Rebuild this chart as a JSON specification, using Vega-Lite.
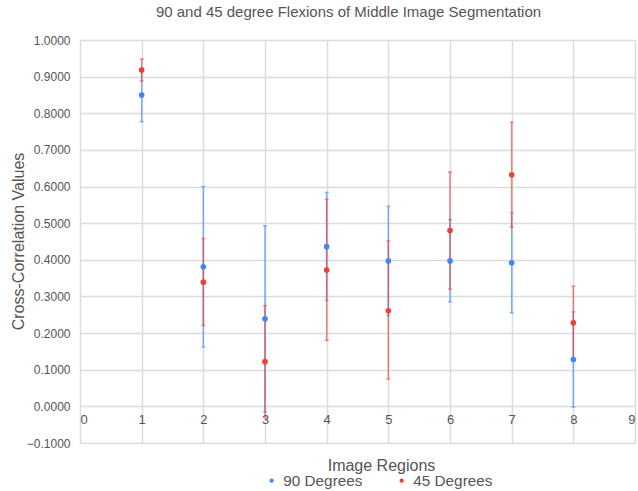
{
  "$schema": "https://vega.github.io/schema/vega-lite/v6.json",
  "autosize": "none",
  "width": 555,
  "height": 403,
  "padding": {"left": 80, "top": 40, "right": 3, "bottom": 48},
  "background": "white",
  "title": {
    "text": "90 and 45 degree Flexions of Middle Image Segmentation",
    "font": "Liberation Sans",
    "fontSize": 15,
    "fontWeight": "normal",
    "color": "#555555",
    "anchor": "middle",
    "dx": -9,
    "offset": 14
  },
  "config": {
    "view": {"stroke": null},
    "font": "Liberation Sans",
    "axisY": {
      "titleFont": "Liberation Sans",
      "titleFontSize": 16,
      "titleFontWeight": "normal",
      "titleColor": "#555555",
      "titleX": -62,
      "titleY": 201,
      "titleAlign": "center",
      "titleBaseline": "middle",
      "domain": false,
      "ticks": false,
      "labelFont": "Liberation Sans",
      "labelFontSize": 12,
      "labelColor": "#555555",
      "labelPadding": 10,
      "labelOverlap": false,
      "labelBound": false,
      "gridColor": "#dcdcdc",
      "gridWidth": 1.5
    }
  },
  "data": {
    "values": [
      {"region": 1, "series": "90 Degrees", "value": 0.850, "lo": 0.777, "hi": 0.923},
      {"region": 2, "series": "90 Degrees", "value": 0.381, "lo": 0.162, "hi": 0.600},
      {"region": 3, "series": "90 Degrees", "value": 0.239, "lo": -0.015, "hi": 0.493},
      {"region": 4, "series": "90 Degrees", "value": 0.436, "lo": 0.289, "hi": 0.584},
      {"region": 5, "series": "90 Degrees", "value": 0.397, "lo": 0.248, "hi": 0.546},
      {"region": 6, "series": "90 Degrees", "value": 0.397, "lo": 0.285, "hi": 0.510},
      {"region": 7, "series": "90 Degrees", "value": 0.392, "lo": 0.255, "hi": 0.529},
      {"region": 8, "series": "90 Degrees", "value": 0.128, "lo": -0.002, "hi": 0.258},
      {"region": 1, "series": "45 Degrees", "value": 0.918, "lo": 0.888, "hi": 0.948},
      {"region": 2, "series": "45 Degrees", "value": 0.339, "lo": 0.221, "hi": 0.458},
      {"region": 3, "series": "45 Degrees", "value": 0.122, "lo": -0.030, "hi": 0.275},
      {"region": 4, "series": "45 Degrees", "value": 0.372, "lo": 0.180, "hi": 0.565},
      {"region": 5, "series": "45 Degrees", "value": 0.261, "lo": 0.074, "hi": 0.452},
      {"region": 6, "series": "45 Degrees", "value": 0.480, "lo": 0.320, "hi": 0.640},
      {"region": 7, "series": "45 Degrees", "value": 0.632, "lo": 0.489, "hi": 0.776},
      {"region": 8, "series": "45 Degrees", "value": 0.228, "lo": 0.128, "hi": 0.328}
    ]
  },
  "encoding": {
    "x": {
      "field": "region",
      "type": "quantitative",
      "scale": {"domain": [0, 9], "nice": false},
      "axis": {
        "title": "Image Regions",
        "titleFont": "Liberation Sans",
        "titleFontSize": 16,
        "titleFontWeight": "normal",
        "titleColor": "#555555",
        "titleX": 301,
        "titleY": 59,
        "titleAlign": "center",
        "titleBaseline": "middle",
        "values": [0, 1, 2, 3, 4, 5, 6, 7, 8, 9],
        "format": "d",
        "offset": -37,
        "domain": false,
        "ticks": false,
        "labelFont": "Liberation Sans",
        "labelFontSize": 13,
        "labelColor": "#555555",
        "labelPadding": 7,
        "labelOverlap": false,
        "gridColor": "#dcdcdc",
        "gridWidth": 1.5,
        "zindex": 0
      }
    },
    "color": {
      "field": "series",
      "type": "nominal",
      "scale": {"domain": ["90 Degrees", "45 Degrees"], "range": ["#4285F4", "#EA4335"]},
      "legend": {
        "title": null,
        "orient": "none",
        "direction": "horizontal",
        "legendX": 184,
        "legendY": 433,
        "symbolType": "circle",
        "symbolSize": 18,
        "symbolOpacity": 1,
        "symbolStrokeWidth": 0,
        "labelFont": "Liberation Sans",
        "labelFontSize": 15.3,
        "labelColor": "#555555",
        "labelOffset": 4,
        "columnPadding": 31
      }
    }
  },
  "layer": [
    {
      "mark": {"type": "rule", "strokeWidth": 1.5, "opacity": 0.65},
      "encoding": {
        "y": {
          "field": "lo",
          "type": "quantitative",
          "scale": {"domain": [-0.1, 1.0], "nice": false, "zero": false},
          "axis": {
            "title": "Cross-Correlation Values",
            "values": [-0.1, 0, 0.1, 0.2, 0.3, 0.4, 0.5, 0.6, 0.7, 0.8, 0.9, 1.0],
            "format": ".4f",
            "zindex": 0
          }
        },
        "y2": {"field": "hi"}
      }
    },
    {
      "mark": {"type": "tick", "orient": "horizontal", "size": 4, "thickness": 1.5, "opacity": 0.55},
      "encoding": {
        "y": {
          "field": "lo",
          "type": "quantitative",
          "axis": {
            "title": "Cross-Correlation Values",
            "values": [-0.1, 0, 0.1, 0.2, 0.3, 0.4, 0.5, 0.6, 0.7, 0.8, 0.9, 1.0],
            "format": ".4f",
            "zindex": 0
          }
        }
      }
    },
    {
      "mark": {"type": "tick", "orient": "horizontal", "size": 4, "thickness": 1.5, "opacity": 0.55},
      "encoding": {
        "y": {
          "field": "hi",
          "type": "quantitative",
          "axis": {
            "title": "Cross-Correlation Values",
            "values": [-0.1, 0, 0.1, 0.2, 0.3, 0.4, 0.5, 0.6, 0.7, 0.8, 0.9, 1.0],
            "format": ".4f",
            "zindex": 0
          }
        }
      }
    },
    {
      "mark": {"type": "point", "filled": true, "opacity": 1, "size": 32, "shape": "circle"},
      "encoding": {
        "y": {
          "field": "value",
          "type": "quantitative",
          "axis": {
            "title": "Cross-Correlation Values",
            "values": [-0.1, 0, 0.1, 0.2, 0.3, 0.4, 0.5, 0.6, 0.7, 0.8, 0.9, 1.0],
            "format": ".4f",
            "zindex": 0
          }
        }
      }
    }
  ]
}
